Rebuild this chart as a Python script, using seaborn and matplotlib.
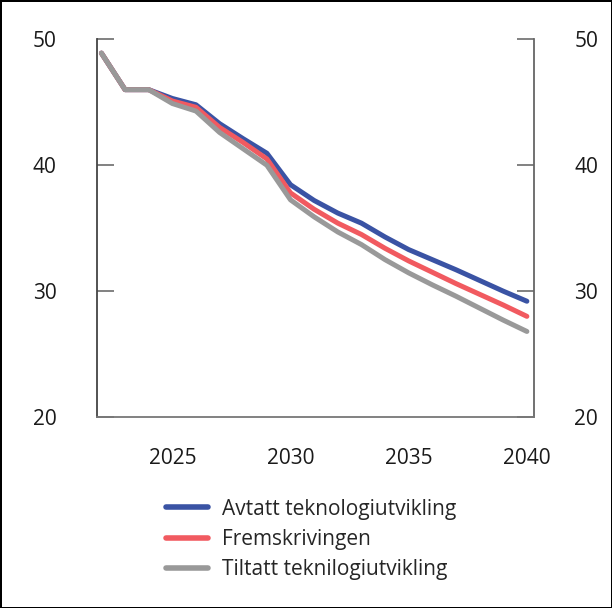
import numpy as np
import pandas as pd
import matplotlib
matplotlib.use("Agg")
import matplotlib.pyplot as plt
import seaborn as sns

# Data
years = list(range(2022, 2041))
avtatt = [48.9, 46.0, 46.0, 45.3, 44.8, 43.3, 42.1, 40.95, 38.45, 37.2, 36.2,
          35.4, 34.3, 33.3, 32.5, 31.7, 30.85, 30.0, 29.2]
fremskriving = [48.9, 46.0, 46.0, 45.1, 44.6, 43.0, 41.8, 40.5, 37.8, 36.5, 35.4,
                34.5, 33.4, 32.4, 31.5, 30.6, 29.75, 28.9, 28.0]
tiltatt = [48.9, 46.0, 46.0, 44.9, 44.3, 42.6, 41.3, 40.0, 37.25, 35.9, 34.7,
           33.7, 32.5, 31.45, 30.5, 29.6, 28.65, 27.7, 26.8]
series_names = ["Avtatt teknologiutvikling", "Fremskrivingen", "Tiltatt teknilogiutvikling"]
colors = ["#3a53a4", "#f15a60", "#999999"]
y_ticks = [20, 30, 40, 50]
x_ticks = [2025, 2030, 2035, 2040]

df = pd.DataFrame({
    "year": years * 3,
    "value": avtatt + fremskriving + tiltatt,
    "series": [series_names[0]] * len(years) + [series_names[1]] * len(years)
              + [series_names[2]] * len(years),
})

sns.set_style("white")
plt.rcParams["font.family"] = ["Open Sans", "DejaVu Sans"]
plt.rcParams["font.size"] = 15

fig = plt.figure(figsize=(6.12, 6.08), dpi=100)
ax = fig.add_axes([0.158, 0.314, 0.7145, 0.6214])

sns.lineplot(data=df, x="year", y="value", hue="series", hue_order=series_names,
             palette=colors, linewidth=3.6, ax=ax)
for line in ax.lines:
    line.set_solid_capstyle("round")
    line.set_solid_joinstyle("round")

ax.set_xlim(2021.8, 2040.3)
ax.set_ylim(20, 50)
ax.set_xticks(x_ticks)
ax.set_yticks(y_ticks)
ax.set_xlabel("")
ax.set_ylabel("")

ax.spines["top"].set_visible(False)
for side in ["left", "right", "bottom"]:
    ax.spines[side].set_visible(True)
    ax.spines[side].set_linewidth(1.3)
ax.spines["left"].set_color("#444444")
ax.spines["right"].set_color("#666666")
ax.spines["bottom"].set_color("#777777")

ax.tick_params(axis="y", which="major", direction="in", length=12, width=1.3,
               color="#777777", left=True, right=True, labelleft=True,
               labelright=True, pad=29, labelsize=15, labelcolor="#1a1a1a")
ax.tick_params(axis="x", which="major", length=0, pad=22, labelsize=15,
               labelcolor="#1a1a1a")

leg = ax.legend(loc="upper left", bbox_to_anchor=(0.271, 0.18),
                bbox_transform=fig.transFigure, frameon=False, borderpad=0,
                handlelength=2.0, handletextpad=0.7, labelspacing=0.45,
                fontsize=15, borderaxespad=0)
for h in leg.get_lines():
    h.set_linewidth(4)

fig.patch.set_edgecolor("black")
fig.patch.set_linewidth(2)
fig.savefig("out.png", dpi=100)
